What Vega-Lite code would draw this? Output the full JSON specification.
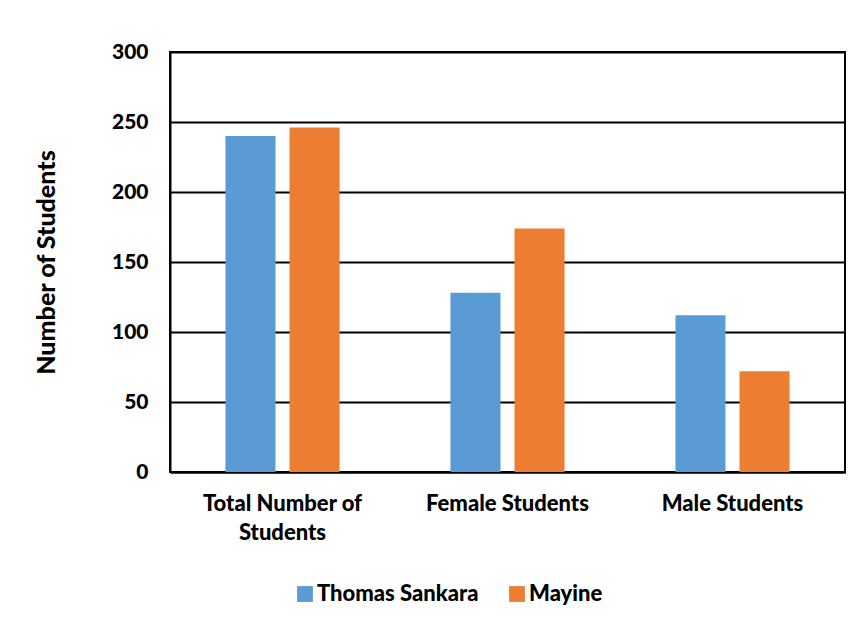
{
  "$schema": "https://vega.github.io/schema/vega-lite/v6.json",
  "width": 675,
  "height": 420,
  "autosize": {"type": "none"},
  "padding": {"left": 170, "top": 52, "right": 23, "bottom": 154},
  "background": "white",
  "config": {
    "font": "Lato",
    "view": {"stroke": "black", "strokeWidth": 2}
  },
  "data": {
    "values": [
      {"category": "Total Number of Students", "school": "Thomas Sankara", "students": 240},
      {"category": "Total Number of Students", "school": "Mayine", "students": 246},
      {"category": "Female Students", "school": "Thomas Sankara", "students": 128},
      {"category": "Female Students", "school": "Mayine", "students": 174},
      {"category": "Male Students", "school": "Thomas Sankara", "students": 112},
      {"category": "Male Students", "school": "Mayine", "students": 72}
    ]
  },
  "mark": {"type": "bar"},
  "encoding": {
    "x": {
      "field": "category",
      "type": "nominal",
      "sort": ["Total Number of Students", "Female Students", "Male Students"],
      "scale": {"paddingInner": 0.493, "paddingOuter": 0.2465},
      "axis": {
        "title": null,
        "labelAngle": 0,
        "labelFont": "Lato",
        "labelFontWeight": 900,
        "labelFontSize": 22,
        "labelColor": "black",
        "labelPadding": 21,
        "labelLineHeight": 29,
        "labelLimit": 300,
        "labelExpr": "datum.label == 'Total Number of Students' ? ['Total Number of', 'Students'] : datum.label",
        "ticks": false,
        "domainColor": "black",
        "domainWidth": 2
      }
    },
    "xOffset": {
      "field": "school",
      "type": "nominal",
      "sort": ["Thomas Sankara", "Mayine"],
      "scale": {"paddingInner": 0.219, "paddingOuter": 0}
    },
    "y": {
      "field": "students",
      "type": "quantitative",
      "scale": {"domain": [0, 300]},
      "axis": {
        "title": "Number of Students",
        "titleFont": "Lato",
        "titleFontWeight": 900,
        "titleFontSize": 25,
        "titleColor": "black",
        "titleX": -111,
        "values": [0, 50, 100, 150, 200, 250, 300],
        "labelFont": "Lato",
        "labelFontWeight": 900,
        "labelFontSize": 21,
        "labelColor": "black",
        "labelPadding": 22,
        "ticks": false,
        "grid": true,
        "gridColor": "black",
        "gridWidth": 2,
        "gridOpacity": 1,
        "domainColor": "black",
        "domainWidth": 2
      }
    },
    "color": {
      "field": "school",
      "type": "nominal",
      "sort": ["Thomas Sankara", "Mayine"],
      "scale": {"domain": ["Thomas Sankara", "Mayine"], "range": ["#5B9BD5", "#ED7D31"]},
      "legend": {
        "title": null,
        "orient": "none",
        "direction": "horizontal",
        "legendX": 124,
        "legendY": 531,
        "symbolType": "square",
        "symbolSize": 250,
        "symbolOpacity": 1,
        "labelFont": "Lato",
        "labelFontWeight": 900,
        "labelFontSize": 22,
        "labelColor": "black",
        "labelLimit": 300,
        "columnPadding": 27,
        "labelOffset": 1
      }
    }
  }
}
